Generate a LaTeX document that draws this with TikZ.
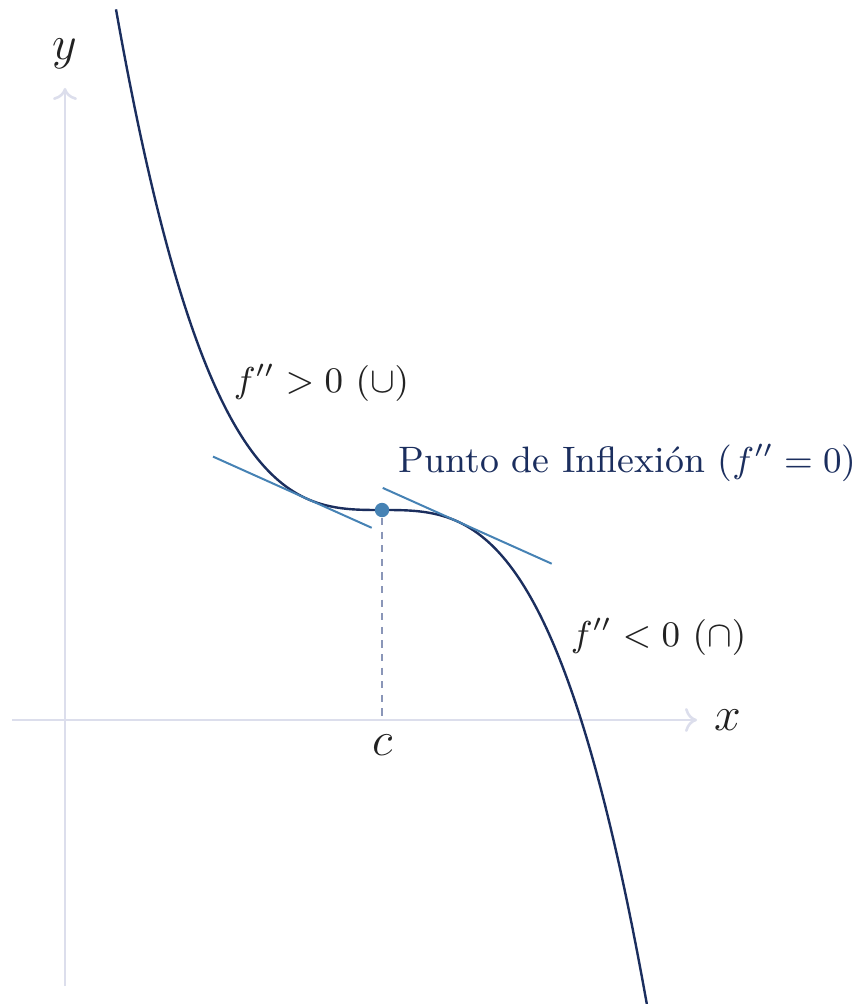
\documentclass[tikz,border=0pt]{standalone}
\usetikzlibrary{arrows.meta}
\definecolor{curvecol}{HTML}{1B2E5E}
\definecolor{tancol}{HTML}{4682B4}
\definecolor{axiscol}{HTML}{DCDEEC}
\definecolor{dashcol}{HTML}{8A96B8}
\definecolor{labcol}{HTML}{222222}
\begin{document}
\begin{tikzpicture}[x=0.25pt,y=-0.25pt,
  axis/.style={draw=axiscol,line width=0.65pt,-{To[length=3pt,width=6pt]}},
  curve/.style={draw=curvecol,line width=0.6pt},
  tangent/.style={draw=tancol,line width=0.5pt},
  guide/.style={draw=dashcol,line width=0.35pt,dash pattern=on 1.8pt off 1.6pt},
  lab/.style={text=labcol,inner sep=0pt,font=\large},
  txt/.style={inner sep=0pt,font=\fontsize{9.2}{11}\selectfont},
  dot/.style={circle,fill=tancol,inner sep=0pt,minimum size=3.6pt}]
\useasboundingbox (0,0) rectangle (851,1004);
% axes
\coordinate (xs) at (12,720);
\coordinate (xe) at (697,720);
\coordinate (ys) at (65,986);
\coordinate (ye) at (65,88);
\draw[axis] (xs) -- (xe);
\draw[axis] (ys) -- (ye);
\node[lab] (xl) at (728,720) {$x$};
\node[lab] (yl) at (65,54) {$y$};
% curve
\draw[curve] plot[domain=-2.66:2.66,samples=200] ({382+100*\x},{510+26.6*\x*\x*\x});
% tangents
\coordinate (t1a) at (213,456.6);
\coordinate (t1b) at (371.7,527.8);
\coordinate (t2a) at (382.7,487.9);
\coordinate (t2b) at (551.7,563.7);
\draw[tangent] (t1a) -- (t1b);
\draw[tangent] (t2a) -- (t2b);
% inflection point
\node[dot] (P) at (382,510) {};
\draw[guide] (P) -- (P |- xs);
\node[lab] (c) at (383,745) {$c$};
% labels
\node[txt,text=labcol,anchor=west] (up) at (233,383) {$f'' > 0\ (\cup)$};
\node[txt,text=curvecol,anchor=west] (pi) at (398,463) {Punto de Inflexión ($f''=0$)};
\node[txt,text=labcol,anchor=west] (down) at (570,637) {$f'' < 0\ (\cap)$};
\end{tikzpicture}
\end{document}
